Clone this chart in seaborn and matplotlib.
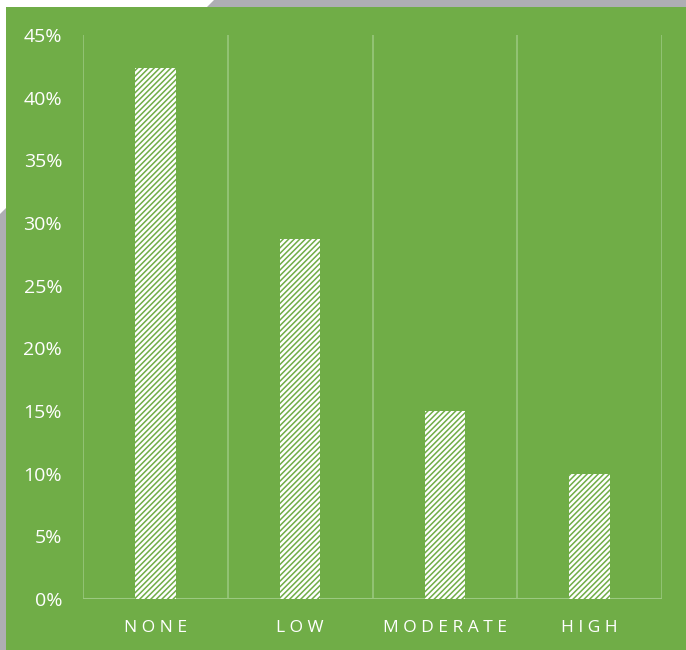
import matplotlib
matplotlib.use("Agg")
import matplotlib.pyplot as plt
import seaborn as sns
import pandas as pd
from matplotlib.patches import Polygon, Rectangle

categories = ["NONE", "LOW", "MODERATE", "HIGH"]
values = [0.424, 0.287, 0.150, 0.100]
tick_labels = ["0%", "5%", "10%", "15%", "20%", "25%", "30%", "35%", "40%", "45%"]
tick_values = [0, 0.05, 0.10, 0.15, 0.20, 0.25, 0.30, 0.35, 0.40, 0.45]

GREEN = "#70AD47"
GRID = "#9CC981"
GRAY = "#AEAEB3"

sns.set_theme(style="white")
plt.rcParams["font.family"] = ["Open Sans", "DejaVu Sans"]
plt.rcParams["hatch.linewidth"] = 1.1

W, H = 686, 650
fig = plt.figure(figsize=(W / 100, H / 100), dpi=100, facecolor="white")

def fx(x):
    return x / W

def fy(y):
    return 1 - y / H

gray = Polygon([(fx(0), fy(214)), (fx(214), fy(0)), (fx(686), fy(0)),
                (fx(686), fy(650)), (fx(0), fy(650))],
               closed=True, transform=fig.transFigure, facecolor=GRAY,
               edgecolor="none", zorder=-2)
fig.patches.append(gray)
green = Rectangle((fx(6), 0), fx(686) - fx(6), fy(7), transform=fig.transFigure,
                  facecolor=GREEN, edgecolor="none", zorder=-1)
fig.patches.append(green)

ax = fig.add_axes([fx(83), fy(599), fx(662) - fx(83), fy(35) - fy(599)])
ax.set_zorder(5)
ax.set_facecolor("none")

df = pd.DataFrame({"cat": categories, "val": values})
sns.barplot(data=df, x="cat", y="val", ax=ax, width=0.28, color="white",
            saturation=1, zorder=3)
for p in ax.patches:
    p.set_facecolor("white")
    p.set_edgecolor(GREEN)
    p.set_linewidth(0)
    p.set_hatch("//////")

ax.set_ylim(0, 0.45)
ax.set_xlim(-0.5, len(categories) - 0.5)
ax.set_yticks(tick_values)
ax.set_yticklabels(tick_labels)
ax.set_xticks(range(len(categories)))
ax.set_xticklabels([" ".join(c) for c in categories])

for b in [i - 0.5 for i in range(len(categories) + 1)]:
    ax.axvline(b, color=GRID, lw=1.1, zorder=1)
ax.axhline(0, color=GRID, lw=1.5, zorder=2)

for s in ax.spines.values():
    s.set_visible(False)

ax.tick_params(axis="y", length=0, pad=15, labelsize=14, labelcolor="white")
ax.tick_params(axis="x", length=0, pad=15, labelsize=12.5, labelcolor="white")
ax.set_xlabel("")
ax.set_ylabel("")

fig.savefig("out.png", dpi=100, facecolor=fig.get_facecolor())
